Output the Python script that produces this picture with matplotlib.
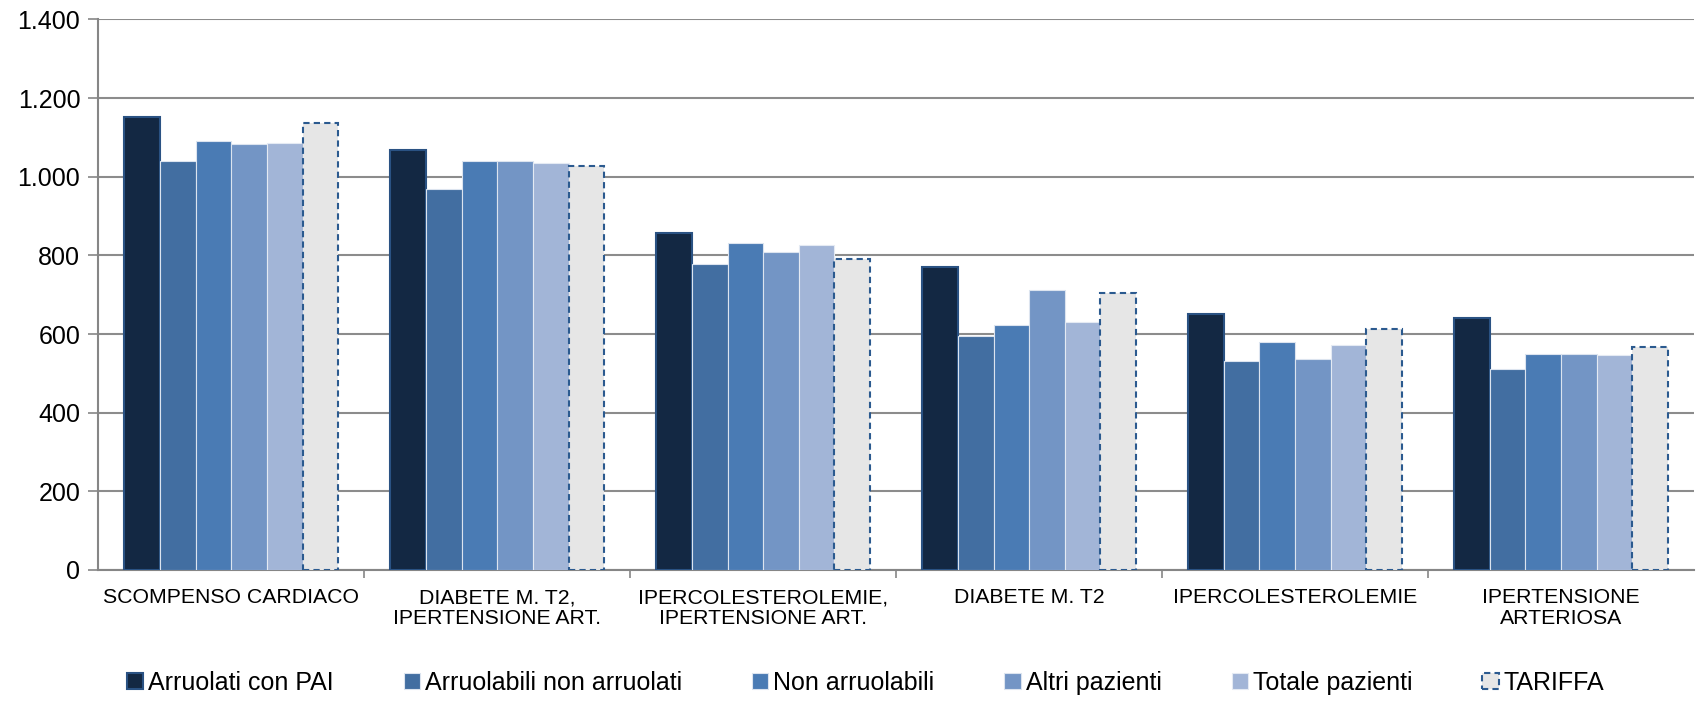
import numpy as np
import matplotlib
matplotlib.use("Agg")
import matplotlib.pyplot as plt
from matplotlib.ticker import FuncFormatter, FixedLocator
from matplotlib.patches import Patch

plt.rcParams['font.family'] = ['Liberation Sans', 'DejaVu Sans']

categories = ["SCOMPENSO CARDIACO", "DIABETE M. T2,\nIPERTENSIONE ART.",
              "IPERCOLESTEROLEMIE,\nIPERTENSIONE ART.", "DIABETE M. T2",
              "IPERCOLESTEROLEMIE", "IPERTENSIONE\nARTERIOSA"]

arruolati = [1152, 1067, 857, 770, 650, 641]
arruolabili = [1041, 970, 777, 594, 531, 512]
non_arruolabili = [1090, 1039, 832, 622, 579, 550]
altri = [1083, 1039, 808, 713, 537, 550]
totale = [1087, 1034, 826, 630, 571, 548]
tariffa = [1137, 1027, 792, 705, 614, 567]

series_names = ["Arruolati con PAI", "Arruolabili non arruolati", "Non arruolabili",
                "Altri pazienti", "Totale pazienti", "TARIFFA"]
series = [arruolati, arruolabili, non_arruolabili, altri, totale, tariffa]

faces = ["#132843", "#426EA1", "#4A7BB4", "#7395C5", "#A2B5D7", "#E6E6E6"]
edges = ["#2A5283", "#DCE4EF", "#DCE4EF", "#DCE4EF", "#E4EAF3", "#2B5A8F"]
widths_lw = [1.5, 0.8, 0.8, 0.8, 0.8, 1.5]
styles = ["solid", "solid", "solid", "solid", "solid", (0, (3, 2))]

fig = plt.figure(figsize=(16.97, 7.01), dpi=100)
ax = fig.add_axes([0.058, 0.1869, 0.9402, 0.7853])

x = np.arange(len(categories))
bw = 0.134
for i, vals in enumerate(series):
    ax.bar(x + (i - 2.5) * bw, vals, bw, color=faces[i], edgecolor=edges[i],
           linewidth=widths_lw[i], linestyle=styles[i], zorder=3)

ax.set_xlim(-0.5, len(categories) - 0.5)
ax.set_ylim(0, 1400)
ax.set_yticks(np.arange(0, 1401, 200))
ax.yaxis.set_major_formatter(FuncFormatter(lambda v, p: f"{int(v):,}".replace(",", ".")))
ax.grid(axis="y", color="#8C8C8C", linewidth=1.5, zorder=0)
ax.set_axisbelow(True)

ax.set_xticks(x)
ax.set_xticklabels(categories, fontsize=15.3, linespacing=1.1)
ax.xaxis.set_minor_locator(FixedLocator(np.arange(0.5, len(categories) - 0.5, 1)))
ax.tick_params(axis="x", which="major", length=0, pad=13)
ax.tick_params(axis="x", which="minor", length=6, color="#868686", width=1.2)
ax.tick_params(axis="y", length=7, color="#868686", width=1.2, labelsize=18, pad=6)

for s in ["top", "right"]:
    ax.spines[s].set_visible(False)
for s in ["left", "bottom"]:
    ax.spines[s].set_color("#868686")
    ax.spines[s].set_linewidth(1.5)

handles = [Patch(facecolor=faces[i], edgecolor=edges[i], linewidth=widths_lw[i],
                 linestyle=styles[i]) for i in range(len(series))]
fig.legend(handles, series_names, loc="center", bbox_to_anchor=(0.51, 0.026), ncol=6,
           frameon=False, fontsize=18, handlelength=0.65, handleheight=0.65,
           handletextpad=0.2, columnspacing=2.8)

fig.savefig("out.png", dpi=100)
